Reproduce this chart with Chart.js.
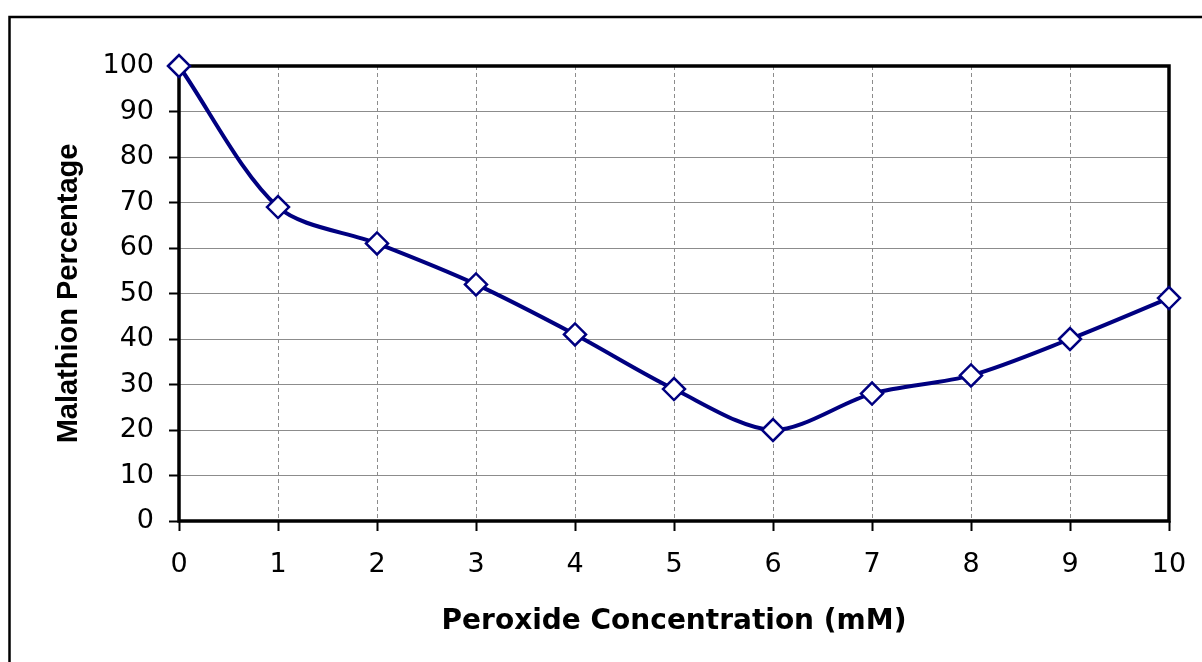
<!DOCTYPE html>
<html>
<head>
<meta charset="utf-8">
<script src="https://cdn.jsdelivr.net/npm/chart.js@4"></script>
<style>
  html, body { margin: 0; padding: 0; background: #fff; }
  #wrap { width: 1202px; height: 662px; position: relative; }
</style>
</head>
<body>
<div id="wrap"><canvas id="myChart" width="1202" height="662"></canvas></div>
<script>
// Datos
const concentraciones = [0, 1, 2, 3, 4, 5, 6, 7, 8, 9, 10];
const malationPct = [100, 69, 61, 52, 41, 29, 20, 28, 32, 40, 49];
const yTicks = [0, 10, 20, 30, 40, 50, 60, 70, 80, 90, 100];
const xTicks = [0, 1, 2, 3, 4, 5, 6, 7, 8, 9, 10];

const chart = document.getElementById('myChart');

// Marco exterior (solo arriba e izquierda) y marco grueso del área de trazado
const framePlugin = {
  id: 'frame',
  beforeDraw(c) {
    const ctx = c.ctx;
    ctx.save();
    ctx.fillStyle = '#fff';
    ctx.fillRect(0, 0, c.width, c.height);
    ctx.strokeStyle = '#000';
    ctx.lineWidth = 2.5;
    ctx.beginPath();
    ctx.moveTo(9.5, 662);
    ctx.lineTo(9.5, 17);
    ctx.lineTo(1202, 17);
    ctx.stroke();
    ctx.restore();
  },
  beforeDatasetsDraw(c) {
    const { ctx, chartArea: a } = c;
    ctx.save();
    ctx.strokeStyle = '#000';
    ctx.lineWidth = 3.5;
    ctx.strokeRect(a.left, a.top, a.right - a.left, a.bottom - a.top);
    ctx.restore();
  }
};

const puntos = concentraciones.map((x, i) => ({ x, y: malationPct[i] }));

const fuenteTicks = { family: 'DejaVu Sans', size: 27 };

const chartConfig = {
  type: 'line',
  data: {
    datasets: [
      {
        label: 'Malathion',
        data: puntos,
        borderColor: '#000080',
        borderWidth: 4,
        tension: 0.3,
        pointStyle: 'rectRot',
        pointRadius: 11,
        pointHoverRadius: 11,
        pointBackgroundColor: '#fff',
        pointBorderColor: '#000080',
        pointBorderWidth: 2.5,
        clip: false,
      },
    ],
  },
  options: {
    responsive: false,
    animation: false,
    events: [],
    layout: { padding: { top: 66, right: 33, left: 0, bottom: 0 } },
    plugins: { legend: { display: false }, tooltip: { enabled: false } },
    scales: {
      x: {
        type: 'linear',
        min: 0,
        max: 10,
        afterBuildTicks: s => { s.ticks = xTicks.map(v => ({ value: v })); },
        afterFit: s => { s.height = 141; s.paddingLeft = 0; s.paddingRight = 0; },
        ticks: { color: '#000', font: fuenteTicks, padding: 18 },
        grid: { color: '#8c8c8c', lineWidth: 1, tickLength: 10, tickColor: '#000', tickWidth: 2 },
        border: { display: false, dash: [4, 3] },
        title: {
          display: true,
          text: 'Peroxide Concentration (mM)',
          color: '#000',
          font: { family: 'DejaVu Sans', size: 28, weight: 'bold' },
          padding: { top: 0, bottom: 23 },
        },
      },
      y: {
        min: 0,
        max: 100,
        afterBuildTicks: s => { s.ticks = yTicks.map(v => ({ value: v })); },
        afterFit: s => { s.width = 179; s.paddingTop = 0; s.paddingBottom = 0; },
        ticks: { color: '#000', font: fuenteTicks, padding: 15 },
        grid: { color: '#8c8c8c', lineWidth: 1, tickLength: 10, tickColor: '#000', tickWidth: 2 },
        border: { display: false },
        title: {
          display: true,
          text: 'Malathion Percentage',
          color: '#000',
          font: { family: "'Liberation Sans', Arial", size: 29, weight: 'bold' },
          padding: { top: 52, bottom: 0 },
        },
      },
    },
  },
  plugins: [framePlugin],
};

const myChart = new Chart(chart, chartConfig);
</script>
</body>
</html>
